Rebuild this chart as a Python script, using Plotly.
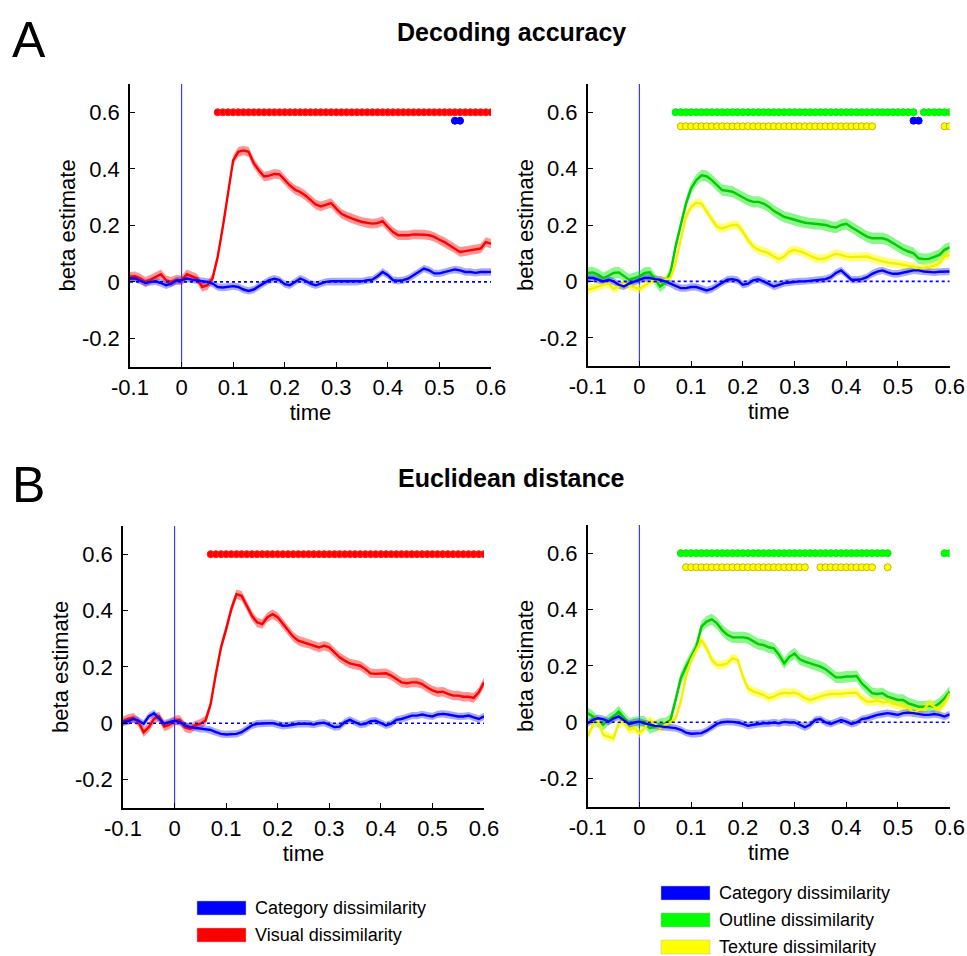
import plotly.graph_objects as go

W, H = 967, 956
FONT = "Liberation Sans, Arial, sans-serif"

# ---------------- data ----------------
TIME = [round(-0.1 + 0.01 * i, 2) for i in range(71)]
X_TICKS = [-0.1, 0, 0.1, 0.2, 0.3, 0.4, 0.5, 0.6]
X_TICK_TEXT = ["-0.1", "0", "0.1", "0.2", "0.3", "0.4", "0.5", "0.6"]
Y_TICKS = [-0.2, 0, 0.2, 0.4, 0.6]
Y_TICK_TEXT = ["-0.2", "0", "0.2", "0.4", "0.6"]

# Panel A left (Decoding accuracy): category & visual
A_L_CATEGORY = [0.012, 0.012, 0.004, -0.004, 0.0, 0.002, -0.004, -0.012, -0.006, 0.004,
                0.006, 0.012, 0.008, 0.006, 0.004, 0.0, -0.006, -0.018, -0.020, -0.018,
                -0.015, -0.018, -0.027, -0.032, -0.027, -0.015, -0.004, 0.006, 0.011, 0.006,
                -0.008, -0.012, 0.0, 0.012, 0.004, -0.006, -0.012, -0.006, 0.0, 0.002,
                0.002, 0.002, 0.0, 0.0, 0.0, 0.002, 0.006, 0.008, 0.020, 0.035,
                0.024, 0.006, 0.004, 0.006, 0.012, 0.024, 0.035, 0.047, 0.041, 0.030,
                0.030, 0.035, 0.041, 0.044, 0.041, 0.035, 0.035, 0.032, 0.035, 0.035, 0.035]
A_L_VISUAL = [0.018, 0.020, 0.012, 0.0, 0.008, 0.018, 0.027, 0.006, 0.0, 0.008,
              0.005, 0.027, 0.020, 0.012, -0.018, -0.012, 0.012, 0.088, 0.194, 0.320,
              0.430, 0.460, 0.465, 0.460, 0.420, 0.394, 0.373, 0.376, 0.382, 0.380,
              0.359, 0.341, 0.326, 0.318, 0.306, 0.290, 0.274, 0.267, 0.274, 0.279,
              0.259, 0.241, 0.232, 0.224, 0.218, 0.212, 0.208, 0.206, 0.208, 0.215,
              0.194, 0.176, 0.165, 0.165, 0.165, 0.168, 0.168, 0.167, 0.165, 0.159,
              0.149, 0.141, 0.129, 0.118, 0.106, 0.109, 0.112, 0.114, 0.118, 0.141, 0.135]

# Panel A right: category, outline, texture
A_R_CATEGORY = [0.012, 0.012, 0.006, 0.0, 0.006, 0.0, -0.012, -0.018, -0.008, 0.0,
                0.006, 0.012, 0.012, 0.008, 0.006, 0.0, -0.008, -0.018, -0.024, -0.024,
                -0.020, -0.020, -0.027, -0.032, -0.027, -0.015, -0.004, 0.006, 0.008, 0.004,
                -0.012, -0.008, 0.004, 0.008, 0.0, -0.008, -0.018, -0.012, -0.006, -0.004,
                -0.001, 0.0, 0.0, 0.002, 0.004, 0.006, 0.008, 0.015, 0.030, 0.039,
                0.024, 0.006, 0.006, 0.008, 0.015, 0.027, 0.035, 0.039, 0.032, 0.027,
                0.027, 0.030, 0.035, 0.039, 0.039, 0.035, 0.034, 0.032, 0.034, 0.035, 0.035]
A_R_OUTLINE = [0.030, 0.032, 0.024, 0.012, 0.020, 0.030, 0.032, 0.020, 0.006, 0.012,
               0.018, 0.030, 0.032, 0.008, -0.018, -0.004, 0.030, 0.124, 0.206, 0.276,
               0.330, 0.359, 0.376, 0.373, 0.359, 0.341, 0.324, 0.321, 0.318, 0.308,
               0.298, 0.288, 0.282, 0.282, 0.276, 0.265, 0.250, 0.239, 0.229, 0.224,
               0.218, 0.212, 0.208, 0.206, 0.204, 0.204, 0.200, 0.194, 0.191, 0.200,
               0.204, 0.192, 0.182, 0.171, 0.159, 0.153, 0.153, 0.153, 0.147, 0.135,
               0.124, 0.114, 0.106, 0.100, 0.082, 0.079, 0.080, 0.088, 0.094, 0.112, 0.121]
A_R_TEXTURE = [-0.030, -0.024, -0.018, -0.012, -0.006, -0.027, -0.018, -0.008, -0.015, -0.020,
               -0.027, -0.015, 0.0, 0.006, 0.004, 0.006, 0.012, 0.065, 0.147, 0.229,
               0.265, 0.279, 0.276, 0.247, 0.220, 0.194, 0.188, 0.194, 0.200, 0.200,
               0.176, 0.147, 0.124, 0.112, 0.106, 0.100, 0.088, 0.079, 0.088, 0.106,
               0.112, 0.106, 0.100, 0.091, 0.082, 0.079, 0.082, 0.091, 0.098, 0.094,
               0.088, 0.086, 0.086, 0.088, 0.088, 0.082, 0.076, 0.071, 0.067, 0.065,
               0.062, 0.059, 0.055, 0.051, 0.044, 0.047, 0.051, 0.055, 0.065, 0.088, 0.094]

# Panel B left (Euclidean distance): category & visual
B_L_CATEGORY = [0.004, 0.007, 0.015, 0.009, -0.002, 0.024, 0.035, 0.015, -0.002, 0.004,
                0.009, 0.004, -0.008, -0.014, -0.016, -0.020, -0.020, -0.024, -0.032, -0.038,
                -0.040, -0.040, -0.038, -0.032, -0.020, -0.008, -0.002, 0.0, 0.0, 0.0,
                -0.005, -0.009, -0.008, -0.005, -0.002, -0.002, -0.002, -0.005, 0.0, 0.002,
                -0.005, -0.014, -0.012, 0.004, 0.012, 0.004, -0.005, -0.002, 0.007, 0.009,
                0.0, -0.008, -0.002, 0.012, 0.015, 0.021, 0.027, 0.027, 0.031, 0.027,
                0.024, 0.031, 0.033, 0.031, 0.027, 0.024, 0.024, 0.027, 0.021, 0.015, 0.024]
B_L_VISUAL = [0.007, 0.015, 0.019, 0.004, -0.032, -0.014, 0.015, 0.024, -0.012, -0.005,
              0.009, 0.012, -0.014, -0.020, -0.008, -0.002, 0.009, 0.068, 0.174, 0.269,
              0.334, 0.405, 0.458, 0.452, 0.417, 0.381, 0.358, 0.352, 0.376, 0.387,
              0.376, 0.352, 0.328, 0.307, 0.293, 0.287, 0.283, 0.275, 0.269, 0.275,
              0.269, 0.251, 0.234, 0.222, 0.212, 0.208, 0.204, 0.192, 0.177, 0.175,
              0.177, 0.177, 0.169, 0.157, 0.145, 0.142, 0.145, 0.145, 0.139, 0.127,
              0.116, 0.110, 0.112, 0.104, 0.098, 0.098, 0.094, 0.094, 0.090, 0.110, 0.145]

# Panel B right: category, outline, texture
B_R_CATEGORY = [-0.004, 0.008, 0.014, 0.011, 0.002, 0.014, 0.020, 0.008, -0.006, -0.001,
                0.002, -0.004, -0.009, -0.013, -0.015, -0.017, -0.020, -0.021, -0.027, -0.037,
                -0.041, -0.041, -0.039, -0.030, -0.018, -0.006, 0.0, 0.002, 0.001, -0.001,
                -0.006, -0.013, -0.009, -0.006, -0.004, -0.004, -0.001, -0.004, 0.001, -0.001,
                -0.001, -0.009, -0.018, -0.009, 0.008, 0.011, -0.001, -0.006, 0.002, 0.008,
                0.002, -0.006, -0.001, 0.011, 0.014, 0.020, 0.026, 0.029, 0.032, 0.029,
                0.026, 0.032, 0.034, 0.032, 0.029, 0.026, 0.026, 0.029, 0.026, 0.020, 0.028]
B_R_OUTLINE = [0.032, 0.020, 0.002, -0.009, 0.008, 0.020, 0.038, 0.014, -0.006, -0.001,
               0.002, 0.002, -0.021, -0.015, -0.006, -0.004, 0.008, 0.079, 0.156, 0.197,
               0.232, 0.268, 0.339, 0.357, 0.365, 0.351, 0.327, 0.310, 0.301, 0.301,
               0.301, 0.298, 0.286, 0.277, 0.274, 0.266, 0.262, 0.239, 0.209, 0.232,
               0.244, 0.223, 0.215, 0.209, 0.203, 0.197, 0.188, 0.174, 0.159, 0.159,
               0.162, 0.162, 0.164, 0.138, 0.120, 0.103, 0.100, 0.103, 0.091, 0.085,
               0.079, 0.079, 0.067, 0.061, 0.055, 0.055, 0.058, 0.055, 0.067, 0.085, 0.109]
B_R_TEXTURE = [-0.051, -0.009, 0.008, -0.045, -0.051, -0.057, -0.004, 0.002, -0.027, -0.021,
               -0.039, -0.021, 0.008, -0.006, -0.021, -0.009, -0.001, 0.014, 0.073, 0.162,
               0.221, 0.256, 0.292, 0.262, 0.221, 0.203, 0.203, 0.209, 0.227, 0.221,
               0.162, 0.120, 0.109, 0.103, 0.097, 0.085, 0.091, 0.100, 0.105, 0.103,
               0.105, 0.097, 0.085, 0.079, 0.085, 0.091, 0.097, 0.100, 0.100, 0.100,
               0.103, 0.105, 0.105, 0.085, 0.073, 0.073, 0.077, 0.070, 0.073, 0.067,
               0.061, 0.055, 0.050, 0.032, 0.044, 0.046, 0.067, 0.055, 0.044, 0.067, 0.103]

# error band half-widths (SEM) per series
SEM = {"category": 0.013, "visual": 0.017, "outline": 0.020, "texture": 0.016}

# significance (start, end) time ranges, and the row level they are drawn at
SIG_LEVEL = {"visual": 0.60, "outline": 0.60, "category": 0.57, "texture": 0.55}
SIG_A_L = {"visual": [(0.07, 0.60)], "category": [(0.53, 0.54)]}
SIG_A_R = {"outline": [(0.07, 0.53), (0.55, 0.60)], "category": [(0.53, 0.54)],
           "texture": [(0.08, 0.45), (0.59, 0.60)]}
SIG_B_L = {"visual": [(0.07, 0.60)]}
SIG_B_R = {"outline": [(0.08, 0.48), (0.59, 0.60)],
           "texture": [(0.09, 0.32), (0.35, 0.45), (0.48, 0.48)]}

LABELS = {"category": "Category dissimilarity", "visual": "Visual dissimilarity",
          "outline": "Outline dissimilarity", "texture": "Texture dissimilarity"}

# ---------------- styles ----------------
LINE_COL = {"category": "#0000ff", "visual": "#ff0000", "outline": "#00cc00", "texture": "#f2f200"}
BAND_COL = {"category": "rgba(40,40,255,0.40)", "visual": "rgba(255,20,20,0.45)",
            "outline": "rgba(0,235,0,0.45)", "texture": "rgba(255,255,0,0.50)"}
DOT_FILL = {"category": "#0000ff", "visual": "#ff0000", "outline": "#00ff00", "texture": "#ffff00"}
DOT_EDGE = {"category": "#0000ff", "visual": "#ff2020", "outline": "#00ee00", "texture": "#c8b400"}
LEG_COL = {"category": "#0000ff", "visual": "#ff0000", "outline": "#00ff00", "texture": "#ffff00"}


def px(x):
    return x / W


def py(y):
    return 1 - y / H


PANELS = [
    ("x", "y", (130, 491), (84, 366.7),
     {"visual": A_L_VISUAL, "category": A_L_CATEGORY}, SIG_A_L),
    ("x2", "y2", (587.7, 949.7), (84, 366),
     {"outline": A_R_OUTLINE, "texture": A_R_TEXTURE, "category": A_R_CATEGORY}, SIG_A_R),
    ("x3", "y3", (123, 484), (526, 807.7),
     {"visual": B_L_VISUAL, "category": B_L_CATEGORY}, SIG_B_L),
    ("x4", "y4", (587.7, 949.7), (525, 806.7),
     {"outline": B_R_OUTLINE, "texture": B_R_TEXTURE, "category": B_R_CATEGORY}, SIG_B_R),
]

fig = go.Figure()
layout = dict(
    width=W, height=H, margin=dict(l=0, r=0, t=0, b=0, autoexpand=False),
    paper_bgcolor="white", plot_bgcolor="white", showlegend=False,
    font=dict(family=FONT, color="black", size=22),
)

for xa, ya, xd, yd, series, sig in PANELS:
    fig.add_trace(go.Scatter(x=[0, 0], y=[-0.3, 0.7], mode="lines",
                             line=dict(color="#3a3aff", width=1.2),
                             xaxis=xa, yaxis=ya, hoverinfo="skip"))
    for key, vals in series.items():
        s = SEM[key]
        upper = [v + s for v in vals]
        lower = [v - s for v in vals]
        fig.add_trace(go.Scatter(x=TIME + TIME[::-1], y=upper + lower[::-1],
                                 fill="toself", fillcolor=BAND_COL[key],
                                 line=dict(width=0), mode="lines",
                                 xaxis=xa, yaxis=ya, hoverinfo="skip"))
    for key, vals in series.items():
        fig.add_trace(go.Scatter(x=TIME, y=vals, mode="lines",
                                 line=dict(color=LINE_COL[key], width=2.4),
                                 xaxis=xa, yaxis=ya, name=LABELS[key]))
    fig.add_trace(go.Scatter(x=[TIME[0], TIME[-1]], y=[0, 0], mode="lines",
                             line=dict(color="#0000ff", width=1.6, dash="dot"),
                             xaxis=xa, yaxis=ya, hoverinfo="skip"))
    for key, ranges in sig.items():
        ts = [t for t in TIME if any(a - 1e-9 <= t <= b + 1e-9 for a, b in ranges)]
        fig.add_trace(go.Scatter(x=ts, y=[SIG_LEVEL[key]] * len(ts), mode="markers",
                                 marker=dict(size=7, color=DOT_FILL[key],
                                             line=dict(color=DOT_EDGE[key], width=1)),
                                 xaxis=xa, yaxis=ya, hoverinfo="skip"))

    xname = "xaxis" if xa == "x" else "xaxis" + xa[1:]
    yname = "yaxis" if ya == "y" else "yaxis" + ya[1:]
    layout[xname] = dict(
        domain=[px(xd[0]), px(xd[1])], anchor=ya, range=[-0.1, 0.6], automargin=False,
        tickvals=X_TICKS, ticktext=X_TICK_TEXT, ticks="inside", ticklen=5,
        tickcolor="black", tickwidth=1.3, showline=True, linecolor="black", linewidth=1.6,
        showgrid=False, zeroline=False, ticklabelstandoff=0,
        tickfont=dict(size=22, family=FONT),
        title=dict(text="time", font=dict(size=22, family=FONT), standoff=0),
    )
    layout[yname] = dict(
        domain=[py(yd[1]), py(yd[0])], anchor=xa, range=[-0.3, 0.7], automargin=False,
        tickvals=Y_TICKS, ticktext=Y_TICK_TEXT, ticks="inside", ticklen=5,
        tickcolor="black", tickwidth=1.3, showline=True, linecolor="black", linewidth=1.6,
        showgrid=False, zeroline=False, ticklabelstandoff=4,
        tickfont=dict(size=22, family=FONT),
        title=dict(text="beta estimate", font=dict(size=22, family=FONT), standoff=0),
    )

annotations = [
    dict(text="A", x=px(10), y=py(10), xanchor="left", yanchor="top", showarrow=False,
         xref="paper", yref="paper", font=dict(size=50, family=FONT)),
    dict(text="B", x=px(10), y=py(455), xanchor="left", yanchor="top", showarrow=False,
         xref="paper", yref="paper", font=dict(size=50, family=FONT)),
    dict(text="<b>Decoding accuracy</b>", x=px(511), y=py(32), xanchor="center",
         yanchor="middle", showarrow=False, xref="paper", yref="paper",
         font=dict(size=25, family=FONT)),
    dict(text="<b>Euclidean distance</b>", x=px(511), y=py(478), xanchor="center",
         yanchor="middle", showarrow=False, xref="paper", yref="paper",
         font=dict(size=25, family=FONT)),
]

shapes = []
LEGENDS = [
    (["category", "visual"], 197, [908, 935]),
    (["category", "outline", "texture"], 661, [893, 920, 947]),
]
for keys, x0, ys in LEGENDS:
    for key, yc in zip(keys, ys):
        shapes.append(dict(type="rect", xref="paper", yref="paper",
                           x0=px(x0), x1=px(x0 + 49), y0=py(yc + 7), y1=py(yc - 7),
                           fillcolor=LEG_COL[key], line=dict(color="#bbbbbb", width=0.5)))
        annotations.append(dict(text=LABELS[key], x=px(x0 + 56), y=py(yc), xanchor="left",
                                yanchor="middle", showarrow=False,
                                xref="paper", yref="paper",
                                font=dict(size=18, family=FONT)))

layout["annotations"] = annotations
layout["shapes"] = shapes
fig.update_layout(**layout)
fig.write_html("out.html")
